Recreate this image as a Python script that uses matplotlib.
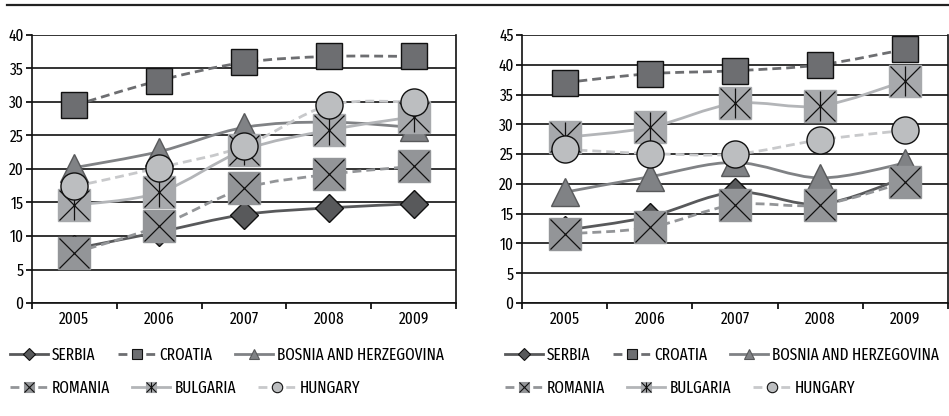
import matplotlib
matplotlib.use("Agg")
import matplotlib.pyplot as plt
import numpy as np
from matplotlib.path import Path
from matplotlib.patches import PathPatch
from matplotlib.lines import Line2D
from matplotlib.legend_handler import HandlerTuple
from matplotlib import font_manager
from matplotlib.font_manager import FontProperties

# ---- data -------------------------------------------------------------
years = ["2005", "2006", "2007", "2008", "2009"]
countries = ["SERBIA", "CROATIA", "BOSNIA AND HERZEGOVINA",
             "ROMANIA", "BULGARIA", "HUNGARY"]

left_serbia = [8.1, 10.6, 13.2, 14.2, 14.8]
left_croatia = [29.5, 33.2, 35.9, 36.8, 36.8]
left_bosnia = [20.2, 22.6, 26.2, 27.0, 26.2]
left_romania = [7.5, 11.5, 17.1, 19.2, 20.4]
left_bulgaria = [14.6, 16.5, 22.8, 25.8, 27.8]
left_hungary = [17.4, 20.2, 23.4, 29.5, 30.0]

right_serbia = [12.2, 14.5, 18.6, 16.6, 21.1]
right_croatia = [37.0, 38.5, 39.0, 40.0, 42.6]
right_bosnia = [18.6, 21.2, 23.6, 21.0, 23.5]
right_romania = [11.6, 12.7, 16.5, 16.5, 20.3]
right_bulgaria = [27.8, 29.5, 33.5, 33.1, 37.3]
right_hungary = [25.8, 25.1, 25.0, 27.4, 29.0]

left_ticks = [0, 5, 10, 15, 20, 25, 30, 35, 40]
right_ticks = [0, 5, 10, 15, 20, 25, 30, 35, 40, 45]


# ---- fonts: prefer a narrow sans face if one is installed ---------------
def pick_font_file():
    best = None
    for f in font_manager.fontManager.ttflist:
        fname = f.fname.lower().replace("-", "").replace("_", "")
        nm = f.name.lower()
        if f.style != "normal":
            continue
        w = f.weight if isinstance(f.weight, int) else 400
        if w != 400:
            continue
        if "italic" in fname or "bold" in fname or "light" in fname or "medium" in fname:
            continue
        score = 0
        if "extracondensed" in fname:
            score = 3
        elif "semicondensed" in fname:
            score = 1
        elif "condensed" in fname or "narrow" in fname or "condensed" in nm or "narrow" in nm:
            score = 2
        if "ultracondensed" in fname:
            score = 0
        if score and (best is None or score > best[0]):
            best = (score, f.fname)
    return best[1] if best else None


W, H = 949, 416
fig = plt.figure(figsize=(W / 100, H / 100), dpi=100)
renderer = fig.canvas.get_renderer()

font_file = pick_font_file()
if font_file:
    FP = FontProperties(fname=font_file)
else:
    FP = FontProperties(family=["Liberation Sans", "DejaVu Sans"])

# size the text so the longest legend entry spans about 169 px
FP.set_size(10)
w10 = renderer.get_text_width_height_descent("BOSNIA AND HERZEGOVINA", FP, ismath=False)[0]
FS = float(np.clip(10 * 169 / w10, 8.0, 12.0))
FP.set_size(FS)
PX_PER_EM = FS * 100 / 72

# ---- series styles ----------------------------------------------------
DASH = (0, (3.2, 1.8))
styles = [
    dict(color="#58595b", ls="-", marker="D", mfc="#58595b", mec="#111111", ms=14.5),
    dict(color="#6d6e71", ls=DASH, marker="s", mfc="#6d6e71", mec="#111111", ms=18.5),
    dict(color="#808285", ls="-", marker="^", mfc="#808285", mec="#58595b", ms=19.5),
    dict(color="#939598", ls=DASH, marker="s", mfc="#939598", mec="#939598", ms=22.5,
         overlay=["x"]),
    dict(color="#b3b5b8", ls="-", marker="s", mfc="#a7a9ac", mec="#a7a9ac", ms=22.5,
         overlay=["x", "|"]),
    dict(color="#c8c9cb", ls=DASH, marker="o", mfc="#bcbec0", mec="#111111", ms=19.5),
]


def smooth_path(xs, ys, k=1 / 6):
    """Cubic Bezier path through the points (Catmull-Rom style smoothing)."""
    pts = np.column_stack([xs, ys]).astype(float)
    n = len(pts)
    verts = [pts[0]]
    codes = [Path.MOVETO]
    for i in range(n - 1):
        p0 = pts[i - 1] if i > 0 else pts[i]
        p1 = pts[i]
        p2 = pts[i + 1]
        p3 = pts[i + 2] if i + 2 < n else pts[i + 1]
        c1 = p1 + (p2 - p0) * k
        c2 = p2 - (p3 - p1) * k
        verts += [c1, c2, p2]
        codes += [Path.CURVE4] * 3
    return Path(verts, codes)


def draw_panel(ax, series, ticks):
    xs = np.arange(len(years)) + 0.5
    for i, (vals, st) in enumerate(zip(series, styles)):
        patch = PathPatch(smooth_path(xs, vals), fill=False, edgecolor=st["color"],
                          lw=2.0, linestyle=st["ls"], zorder=3 + i * 0.1,
                          capstyle="butt")
        ax.add_patch(patch)
    for i, (vals, st) in enumerate(zip(series, styles)):
        z = 5 + i
        ax.plot(xs, vals, ls="none", marker=st["marker"], ms=st["ms"],
                mfc=st["mfc"], mec=st["mec"], mew=1.0, zorder=z)
        for ov in st.get("overlay", []):
            ax.plot(xs, vals, ls="none", marker=ov, ms=st["ms"] * 0.95,
                    mec="#111111", mew=0.9, zorder=z + 0.5)

    ax.set_xlim(0, len(years))
    ax.set_ylim(ticks[0], ticks[-1])
    ax.set_yticks(ticks)
    ax.set_yticklabels([str(t) for t in ticks], fontproperties=FP)
    ax.set_xticks(np.arange(len(years) + 1))
    ax.set_xticklabels([""] * (len(years) + 1))
    ax.set_xticks(xs, minor=True)
    ax.set_xticklabels(years, minor=True, fontproperties=FP)
    ax.tick_params(axis="x", which="minor", length=0, pad=6)
    ax.tick_params(axis="x", which="major", length=4, width=1.2, direction="out")
    ax.tick_params(axis="y", length=4, width=1.2, direction="out", pad=2)
    ax.grid(axis="y", color="#111111", lw=1.2, zorder=1)
    ax.set_axisbelow(True)
    ax.spines["top"].set_visible(False)
    for s in ["left", "bottom", "right"]:
        ax.spines[s].set_color("#111111")
        ax.spines[s].set_linewidth(1.2)


def legend_handle(st):
    base = Line2D([], [], color=st["color"], ls=st["ls"], lw=2.0, marker=st["marker"],
                  ms=7.5 if st["marker"] != "D" else 6.5, mfc=st["mfc"], mec=st["mec"], mew=0.8)
    parts = [base]
    for ov in st.get("overlay", []):
        parts.append(Line2D([], [], ls="none", marker=ov, ms=7, mec="#111111", mew=0.8))
    return tuple(parts) if len(parts) > 1 else base


def draw_legend(fig, x0, row_specs):
    for y, idxs in row_specs:
        handles = [legend_handle(styles[i]) for i in idxs]
        labels = [countries[i] for i in idxs]
        fig.legend(handles, labels, loc="center left", bbox_to_anchor=(x0, y),
                   ncol=len(idxs), frameon=False, prop=FP,
                   handlelength=38 / PX_PER_EM, handletextpad=4 / PX_PER_EM,
                   columnspacing=22 / PX_PER_EM, borderpad=0, borderaxespad=0,
                   handler_map={tuple: HandlerTuple(ndivide=1, pad=0)})


# rule across the top of the figure
fig.add_artist(Line2D([7 / W, 948 / W], [1 - 5 / H, 1 - 5 / H], color="#222222", lw=1.6,
                      transform=fig.transFigure))

ax1 = fig.add_axes([32 / W, 1 - 303 / H, (456 - 32) / W, 268 / H])
draw_panel(ax1, [left_serbia, left_croatia, left_bosnia, left_romania, left_bulgaria,
                 left_hungary], left_ticks)

ax2 = fig.add_axes([522 / W, 1 - 303 / H, (948 - 522) / W, 268 / H])
draw_panel(ax2, [right_serbia, right_croatia, right_bosnia, right_romania, right_bulgaria,
                 right_hungary], right_ticks)

draw_legend(fig, 10 / W, [(1 - 355 / H, [0, 1, 2]), (1 - 388 / H, [3, 4, 5])])
draw_legend(fig, 505 / W, [(1 - 355 / H, [0, 1, 2]), (1 - 388 / H, [3, 4, 5])])

fig.savefig("out.png", dpi=100)
